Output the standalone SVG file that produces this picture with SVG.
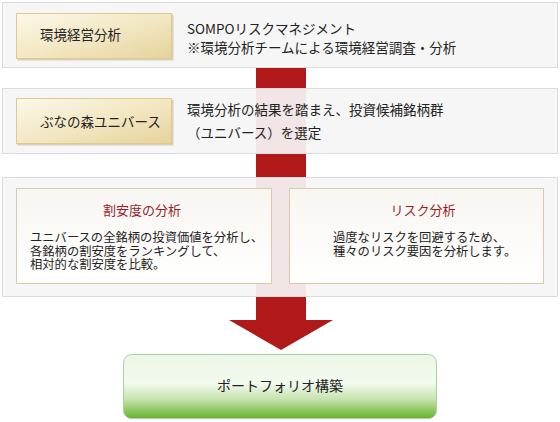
<svg xmlns="http://www.w3.org/2000/svg" width="560" height="422" viewBox="0 0 560 422">
<defs>
<linearGradient id="gold" x1="0" y1="0" x2="1" y2="1">
<stop offset="0" stop-color="#fcf8ea"/>
<stop offset="0.5" stop-color="#f3e8c4"/>
<stop offset="1" stop-color="#e6d39c"/>
</linearGradient>
<linearGradient id="cream" x1="0" y1="0" x2="0" y2="1">
<stop offset="0" stop-color="#f8f6f1"/>
<stop offset="1" stop-color="#ffffff"/>
</linearGradient>
<linearGradient id="green" x1="0" y1="0" x2="0" y2="1">
<stop offset="0" stop-color="#ecf6e6"/>
<stop offset="0.45" stop-color="#f3faef"/>
<stop offset="0.7" stop-color="#c6e3ae"/>
<stop offset="1" stop-color="#66b22c"/>
</linearGradient>
</defs>
<style>
text{font-family:"Noto Sans CJK JP","Liberation Sans",sans-serif;fill:#222;}
.panel{fill:#f5f5f5;fill-opacity:0.93;stroke:#dcdcdc;stroke-width:1;}
.label{fill:url(#gold);stroke:#e0c98c;stroke-width:1;}
.shadow{fill:#d8d0bc;}
.inner{fill:url(#cream);stroke:#d9caa8;stroke-width:1;}
.lbl{font-size:13.5px;}
.desc{font-size:13.5px;}
.body{font-size:12.3px;}
.title{font-size:13px;fill:#9b1b2a;}
.arrow{fill:#b0181a;}
</style>
<g id="connectors">
<rect class="arrow" x="256" y="68" width="50" height="253"/>
<polygon class="arrow" points="229,320 333,320 281,350"/>
</g>
<g id="node-kankyo">
<rect class="panel" x="2.5" y="2.5" width="555" height="65"/>
<rect class="shadow" x="17.5" y="14.5" width="156" height="46"/>
<rect class="label" x="16.5" y="13.5" width="155" height="45"/>
<text class="lbl" x="40" y="40">環境経営分析</text>
<text class="desc" x="187" y="34">SOMPOリスクマネジメント</text>
<text class="desc" x="187" y="53">※環境分析チームによる環境経営調査・分析</text>
</g>
<g id="node-buna">
<rect class="panel" x="2.5" y="88.5" width="555" height="65"/>
<rect class="shadow" x="17.5" y="99.5" width="156" height="46"/>
<rect class="label" x="16.5" y="98.5" width="155" height="45"/>
<text class="lbl" x="40" y="127">ぶなの森ユニバース</text>
<text class="desc" x="187" y="115">環境分析の結果を踏まえ、投資候補銘柄群</text>
<text class="desc" x="187" y="138">（ユニバース）を選定</text>
</g>
<g id="node-analysis">
<rect class="panel" x="2.5" y="177.5" width="555" height="119"/>
<g id="node-wariyasu">
<rect class="inner" x="16.5" y="188.5" width="255" height="95"/>
<text class="title" x="142" y="215" text-anchor="middle">割安度の分析</text>
<text class="body" x="30" y="242">ユニバースの全銘柄の投資価値を分析し、</text>
<text class="body" x="30" y="255.5">各銘柄の割安度をランキングして、</text>
<text class="body" x="30" y="269">相対的な割安度を比較。</text>
</g>
<g id="node-risk">
<rect class="inner" x="289.5" y="188.5" width="254" height="95"/>
<text class="title" x="423" y="215" text-anchor="middle">リスク分析</text>
<text class="body" x="333" y="242">過度なリスクを回避するため、</text>
<text class="body" x="333" y="256">種々のリスク要因を分析します。</text>
</g>
</g>
<g id="node-portfolio">
<rect x="123.5" y="354.5" width="313" height="64" rx="8" ry="8" fill="url(#green)" stroke="#a9d29a" stroke-width="1"/>
<text x="280" y="391" font-size="14px" text-anchor="middle">ポートフォリオ構築</text>
</g>
</svg>
